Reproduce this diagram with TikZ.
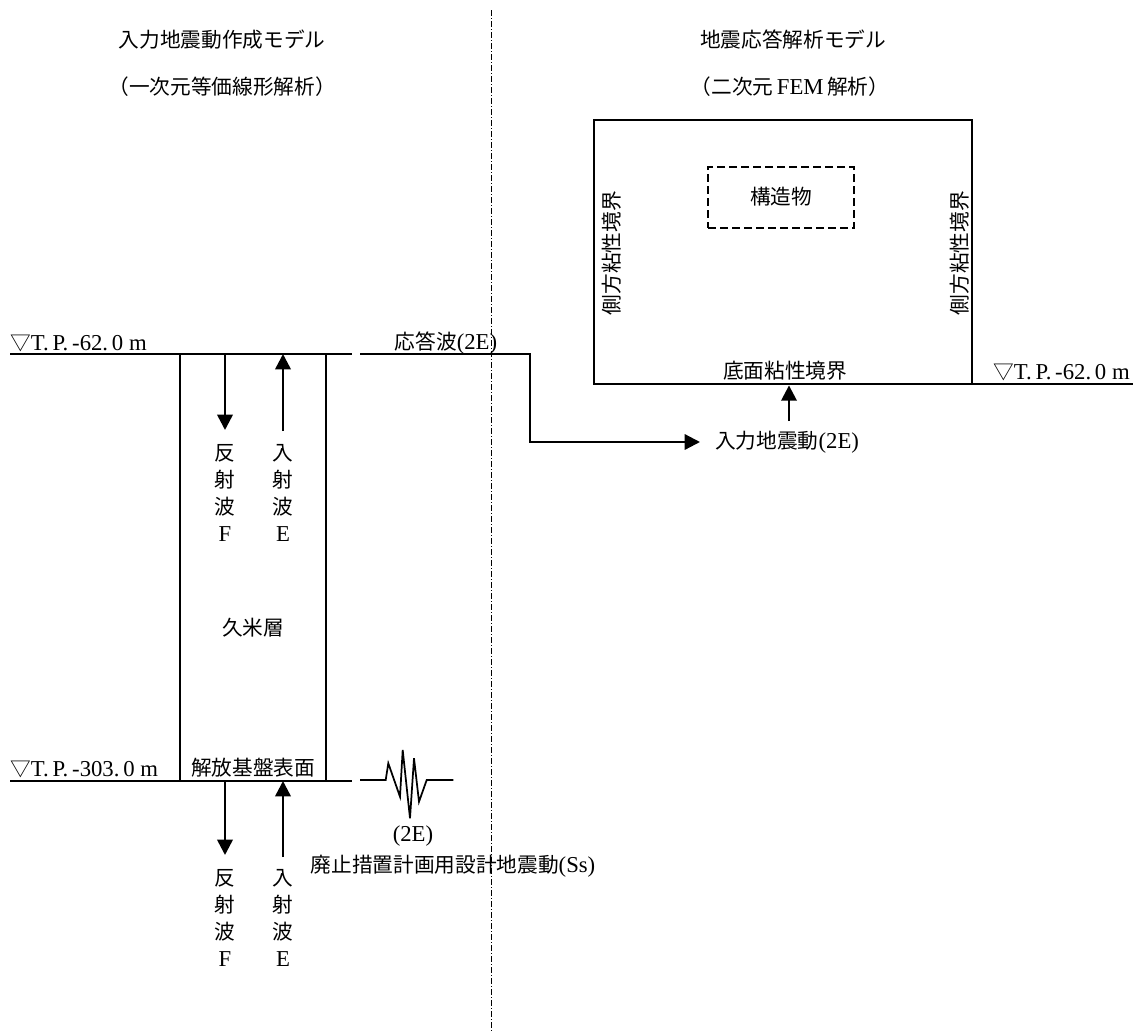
\documentclass[tikz,border=0pt]{standalone}
\usepackage{fontspec}
\setmainfont{Noto Sans CJK JP}
\newfontfamily\lat[Scale=1.1]{Liberation Serif}
\usetikzlibrary{arrows.meta}
\begin{document}
\begin{tikzpicture}[x=0.75pt,y=-0.75pt,
  every node/.style={font=\fontsize{15.5pt}{20.25pt}\selectfont, inner sep=0pt},
  ground/.style={line width=1.3pt},
  boxline/.style={draw, line width=2.1pt},
  arr/.style={line width=1.9pt,-{Triangle[width=11.5pt,length=11.5pt]}},
  divider/.style={line width=0.65pt, dash pattern=on 4.5pt off 1.5pt on 0.75pt off 1.5pt},
  vlabel/.style={align=center},
]
\useasboundingbox (0,0) rectangle (1133,1032);

% titles
\node (t1) at (222,40) {入力地震動作成モデル};
\node (t2) at (222,87) {（一次元等価線形解析）};
\node (t3) at (793,40) {地震応答解析モデル};
\node (t4) at (790,87) {（二次元\,{\lat FEM}\,解析）};

% divider
\coordinate (d1) at (491,10);
\coordinate (d2) at (491,1032);
\draw[divider] (d1) -- (d2);

% left column: ground lines
\coordinate (g1a) at (10,354);
\coordinate (g1b) at (352,354);
\coordinate (g2a) at (10,781);
\coordinate (g2b) at (352,781);
\draw[ground] (g1a) -- (g1b);
\draw[ground] (g2a) -- (g2b);
\node[anchor=west] (lv1) at (10,343) {▽{\lat T.\,P.\,-62.\,0\ m}};
\node[anchor=west] (lv2) at (10,769) {▽{\lat T.\,P.\,-303.\,0\ m}};

% column box
\node[boxline, minimum width=109.5pt, minimum height=320.25pt] (kume) at (253,567.5) {};
\node (kumel) at (253,628) {久米層};
\node (kaiho) at (253,768) {解放基盤表面};

% upper arrows
\coordinate (a1s) at (225,354);
\coordinate (a1e) at (225,430);
\coordinate (a2s) at (283,431);
\coordinate (a2e) at (283,354);
\draw[arr] (a1s) -- (a1e);
\draw[arr] (a2s) -- (a2e);
\node[vlabel] (f1) at (225,493) {反\\射\\波\\{\lat F}};
\node[vlabel] (e1) at (283,493) {入\\射\\波\\{\lat E}};

% lower arrows
\coordinate (b1s) at (225,781);
\coordinate (b1e) at (225,855);
\coordinate (b2s) at (283,857);
\coordinate (b2e) at (283,781);
\draw[arr] (b1s) -- (b1e);
\draw[arr] (b2s) -- (b2e);
\node[vlabel] (f2) at (225,918) {反\\射\\波\\{\lat F}};
\node[vlabel] (e2) at (283,918) {入\\射\\波\\{\lat E}};

% seismic wave symbol
\draw[ground, line join=miter] (360,780) -- (385.7,780) -- (388.3,763.3) -- (400,796.7) -- (402.7,750)
  -- (410,818.3) -- (414,758.3) -- (419,801.7) -- (426.7,780) -- (453.3,780);
\node (w2e) at (413,836) {\lat (2E)};
\node (wss) at (453,866) {廃止措置計画用設計地震動{\lat (Ss)}};

% response wave
\node (resp) at (446,343) {応答波{\lat (2E)}};
\coordinate (r1) at (360,354);
\coordinate (r2) at (530,354);
\coordinate (r3) at (530,442);
\node[anchor=west] (inp) at (715,442) {入力地震動{\lat (2E)}};
\draw[line width=1.7pt,-{Triangle[width=11.5pt,length=11.5pt]}] (r1) -- (r2) -- (r3) -- ([xshift=-11.25pt]inp.west);

% right model
\node[boxline, minimum width=283.5pt, minimum height=198pt] (fem) at (783,252) {};
\node[draw, line width=1.6pt, dash pattern=on 6pt off 3pt, minimum width=109.5pt, minimum height=45.75pt] (str) at (781,197.5) {};
\node (strl) at (781,197) {構造物};
\node[rotate=90] (sidel) at (612,253) {側方粘性境界};
\node[rotate=90] (sider) at (960,253) {側方粘性境界};
\node (botl) at (785,371) {底面粘性境界};
\coordinate (g3a) at (972,384);
\coordinate (g3b) at (1133,384);
\draw[ground] (g3a) -- (g3b);
\node[anchor=east] (rv) at (1130,372) {▽{\lat T.\,P.\,-62.\,0\ m}};
\coordinate (u1) at (789,421);
\draw[arr] (u1) -- (fem.south -| u1);
\end{tikzpicture}
\end{document}
